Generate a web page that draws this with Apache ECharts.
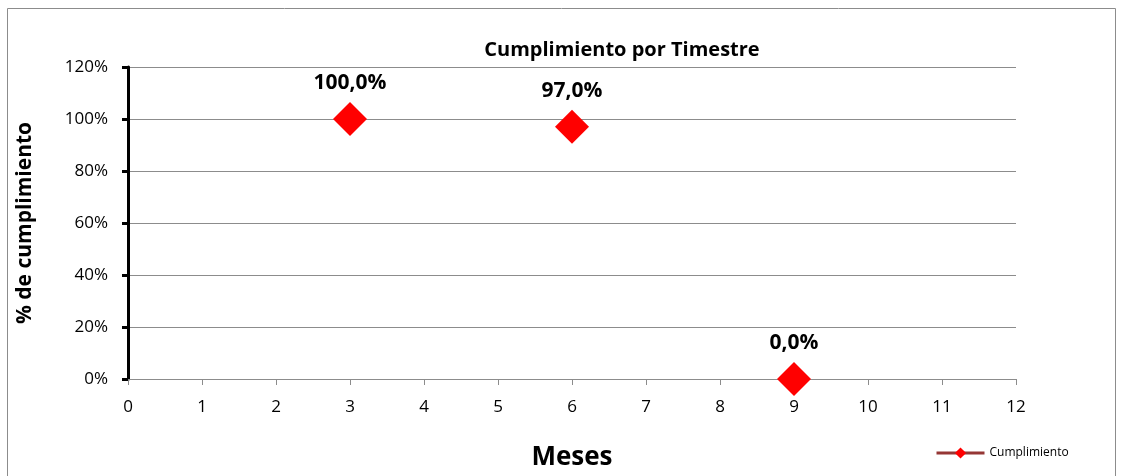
<!DOCTYPE html>
<html>
<head>
<meta charset="utf-8">
<script src="https://cdn.jsdelivr.net/npm/echarts@6/dist/echarts.min.js"></script>
<style>
  html, body { margin: 0; padding: 0; background: #fff; }
  #chart { width: 1122px; height: 476px; }
</style>
</head>
<body>
<div id="chart"></div>
<script>
var meses = [3, 6, 9];
var cumplimiento = [100, 97, 0];
var serieNombre = 'Cumplimiento';

var puntos = meses.map(function(m, i) { return [m, cumplimiento[i]]; });
var fuente = '"Open Sans", Lato, sans-serif';

var myChart = echarts.init(document.getElementById('chart'));
myChart.setOption({
    animation: false,
    textStyle: {fontFamily: fuente},
    title: {
        text: 'Cumplimiento por Timestre',
        left: 617, top: 35, textAlign: 'center',
        textStyle: {fontSize: 20, fontWeight: 'bold', color: '#000', fontFamily: fuente}
    },
    grid: {left: 128, right: 106, top: 67, bottom: 95},
    graphic: [{
        type: 'rect',
        shape: {x: 7.5, y: 8.5, width: 1108, height: 480},
        style: {fill: 'none', stroke: '#8c8c8c', lineWidth: 1},
        silent: true
    }],
    legend: {
        left: 930, top: 442,
        itemWidth: 48, itemHeight: 14, itemGap: 5,
        data: [serieNombre],
        lineStyle: {color: '#953735', width: 3, opacity: 1},
        itemStyle: {color: '#ff0000'},
        textStyle: {fontSize: 12, color: '#000', fontFamily: fuente}
    },
    xAxis: {
        type: 'value', min: 0, max: 12, interval: 1,
        name: 'Meses', nameLocation: 'middle', nameGap: 66,
        nameTextStyle: {fontSize: 26, fontWeight: 'bold', color: '#000'},
        axisLine: {show: true, lineStyle: {color: '#8c8c8c', width: 1}},
        axisTick: {show: true, length: 6, lineStyle: {color: '#8c8c8c'}},
        axisLabel: {fontSize: 17, color: '#000', margin: 20},
        splitLine: {show: false}
    },
    yAxis: {
        type: 'value', min: 0, max: 120, interval: 20,
        name: '% de cumplimiento', nameLocation: 'middle', nameGap: 92,
        nameTextStyle: {fontSize: 21, fontWeight: 'bold', color: '#000'},
        axisLine: {show: true, lineStyle: {color: '#000', width: 3}},
        axisTick: {show: true, length: 6, lineStyle: {color: '#000', width: 3}},
        axisLabel: {fontSize: 17, color: '#000', margin: 20, formatter: '{value}%'},
        splitLine: {show: true, lineStyle: {color: '#8c8c8c', width: 1}}
    },
    series: [{
        name: serieNombre,
        type: 'line',
        data: puntos,
        symbol: 'diamond',
        symbolSize: 34,
        lineStyle: {width: 0, opacity: 0},
        itemStyle: {color: '#ff0000'},
        label: {
            show: true, position: 'top', distance: 8,
            fontSize: 21, fontWeight: 'bold', color: '#000',
            formatter: function(p) { return p.data[1].toFixed(1).replace('.', ',') + '%'; }
        }
    }]
});
</script>
</body>
</html>
